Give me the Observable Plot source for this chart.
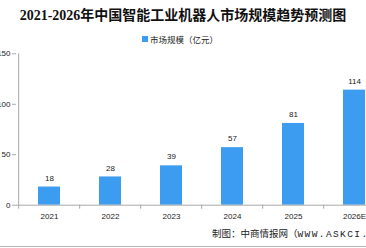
<!DOCTYPE html>
<html>
<head>
<meta charset="utf-8">
<script src="https://cdn.jsdelivr.net/npm/d3@7"></script>
<script src="https://cdn.jsdelivr.net/npm/@observablehq/plot@0.6"></script>
<style>
  html, body { margin: 0; padding: 0; width: 366px; height: 248px; overflow: hidden; background: #fff; }
  #page { position: relative; width: 366px; height: 248px; overflow: hidden; }
  #title { position: absolute; left: 0; top: 4px; width: 366px; text-align: center;
    font: bold 14px "Liberation Serif", "Noto Sans CJK SC", serif; color: #111; white-space: nowrap; }
  #legend { position: absolute; left: 142px; top: 33px; font: 8.5px "Noto Sans CJK SC", sans-serif; color: #222;
    display: flex; align-items: center; white-space: nowrap; }
  #legend .sw { width: 6px; height: 6px; margin-right: 2px; }
  #chart { position: absolute; left: 0; top: 44px; width: 390px; }
  #chart svg { max-width: none; }
  #source { position: absolute; left: 212px; top: 226px; font: 9.5px "Noto Sans CJK SC", sans-serif; color: #222; white-space: nowrap; }
  #source .latin { font-family: "Liberation Mono", "Noto Sans CJK SC", monospace; letter-spacing: 1.4px; }
  #rule { position: absolute; left: 0; top: 246px; width: 366px; height: 1px; background: #b5b5b5; }
</style>
</head>
<body>
<div id="page">
  <div id="title"></div>
  <div id="legend"><span class="sw"></span><span class="lt"></span></div>
  <div id="chart"></div>
  <div id="source"><span class="cjk"></span><span class="latin"></span></div>
  <div id="rule"></div>
</div>
<script>
// 中国智能工业机器人市场规模（亿元）
const years = ["2021", "2022", "2023", "2024", "2025", "2026E"];
const values = [18, 28, 39, 57, 81, 114];
const yTicks = [0, 50, 100, 150];

const titleText = "2021-2026年中国智能工业机器人市场规模趋势预测图";
const seriesName = "市场规模（亿元）";
const sourceLabel = "制图：中商情报网（";
const sourceSite = "WWW.ASKCI.COM）";

const barColor = "#3c9cf0";
const axisColor = "#a8a8a8";

const data = years.map((year, i) => ({year, value: values[i]}));

const width = 390, marginLeft = 16, marginRight = 4;
const step = (width - marginLeft - marginRight) / years.length;

document.getElementById("title").textContent = titleText;
document.querySelector("#legend .sw").style.background = barColor;
document.querySelector("#legend .lt").textContent = seriesName;
document.querySelector("#source .cjk").textContent = sourceLabel;
document.querySelector("#source .latin").textContent = sourceSite;

const chart = Plot.plot({
  width,
  height: 180,
  marginLeft,
  marginRight,
  marginTop: 9.3,
  marginBottom: 19.3,
  style: {fontFamily: "Liberation Sans, Arial, sans-serif", fontSize: "8px", color: "#222", background: "transparent", overflow: "visible", maxWidth: "none"},
  x: {domain: years, paddingInner: 0.643, paddingOuter: 0.3215, align: 0.5, label: null},
  y: {domain: [0, 150], label: null},
  marks: [
    Plot.barY(data, {x: "year", y: "value", fill: barColor}),
    // category separator ticks below the baseline
    Plot.ruleX(years, {x: d => d, dx: -step / 2, y1: 0, y2: 0, insetBottom: -4, stroke: axisColor}),
    // vertical axis line
    Plot.ruleX(years.slice(0, 1), {x: d => d, dx: -step / 2, y1: 0, y2: 150, stroke: axisColor}),
    Plot.ruleY([0], {stroke: axisColor}),
    Plot.axisY({ticks: yTicks, tickSize: 4, tickPadding: 2, stroke: axisColor, fill: "#222", fontSize: 8}),
    Plot.axisX({tickSize: 0, tickPadding: 8, fill: "#222", fontSize: 8}),
    Plot.text(data, {x: "year", y: "value", text: d => String(d.value), dy: -9, fill: "#222", fontSize: 8})
  ]
});
document.getElementById("chart").appendChild(chart);
</script>
</body>
</html>
